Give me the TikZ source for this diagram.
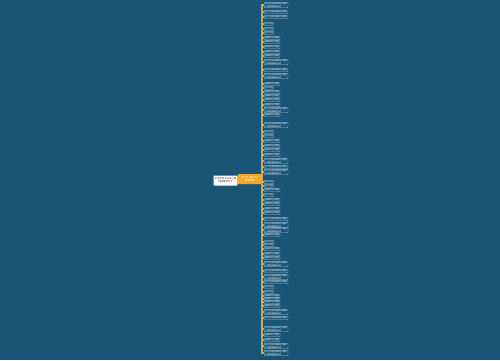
\documentclass[tikz,border=0pt]{standalone}
\usepackage{fontspec}
\newfontfamily\cjk{Noto Sans CJK SC}
\definecolor{bg}{RGB}{27,85,117}
\definecolor{spine}{RGB}{201,168,92}
\definecolor{ctr}{RGB}{245,166,35}
\definecolor{leafline}{RGB}{150,190,215}
\tikzset{
  leaf/.style={draw=leafline, line width=0.3pt, fill=bg, rounded corners=0.6pt, text=white,
    font=\cjk\fontsize{2}{2.5}\selectfont, inner xsep=0.9pt, inner ysep=0.5pt, align=left, anchor=west},
  link/.style={draw=spine, line width=1.1pt},
  ctrbox/.style={fill=ctr, text=white, font=\cjk\fontsize{2.4}{3}\selectfont, inner sep=1pt,
    minimum width=24pt, minimum height=10pt, align=center, rounded corners=0.6pt},
  rootbox/.style={fill=white, text=black!80, font=\cjk\fontsize{2.4}{3}\selectfont, inner sep=1pt,
    minimum width=24pt, minimum height=10pt, align=center, rounded corners=0.6pt}
}
\def\ts{句子大全}
\def\tm{经典的句子短语}
\def\tl{关于生活的经典句子摘抄}
\def\tL{关于生活的经典句子摘抄\\心情短语精选说说}
\begin{document}
\begin{tikzpicture}[x=1pt,y=-1pt]
\fill[bg] (0,0) rectangle (500,360);
\node[rootbox] (root) at (225.5,180.5) {生活的句子说说心情\\短语精选大全};
\node[ctrbox] (c) at (250,179) {关于生活的句子\\经典语录};
\draw[link, line width=0.6pt] (root.east) -- (c.west);
\foreach \y/\k [count=\n] in {5/L,12/l,17/l,24/s,29/s,33/s,38/m,42/m,47/m,52/m,56/m,
  62/L,70/l,76/L,84/m,88/s,92/m,96/m,100/m,105/m,110/L,115/m,
  125/L,132/s,136/s,141/m,146/m,150/m,155/m,161/L,167/l,172/L,
  182/s,186/s,190/m,195/s,200/m,204/m,209/m,213/m,219/l,225/L,230/L,235/m,
  242/s,245/s,249/m,254/m,258/m,264/L,271/l,277/L,282/l,287/s,292/s,296/m,299/m,
  302/m,306/m,312/L,318/l,329/L,335/m,340/m,346/L,353/L}{
  \node[leaf] (i\n) at (264,\y) {\csname t\k\endcsname};
  \draw[link] (c.east) -| ([xshift=-2pt]i\n.west) -- (i\n.west);
}
\end{tikzpicture}
\end{document}
